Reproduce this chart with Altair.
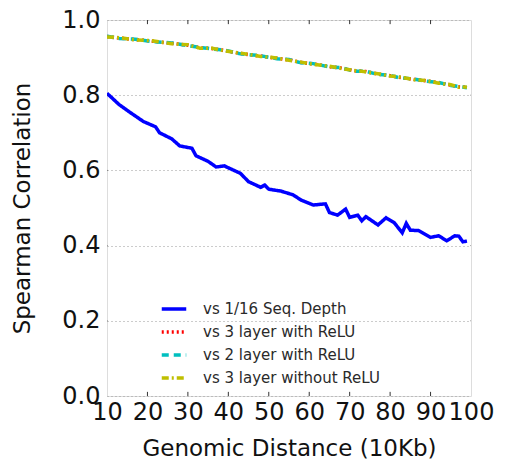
import altair as alt
import pandas as pd

# ---- data ----
labels = ["vs 1/16 Seq. Depth", "vs 3 layer with ReLU", "vs 2 layer with ReLU", "vs 3 layer without ReLU"]
colors = ["#0000ff", "#ff0000", "#00bfbf", "#bfbf00"]
dashes = [[1, 0], [2, 3], [7, 5], [7, 3, 2, 3]]

x_blue = [10, 13, 16, 19, 22, 23, 26, 28, 31, 32, 35, 37, 39, 43, 45, 48, 49, 50, 53, 56, 58,
          61, 64, 65, 67, 69, 70, 72, 73, 74, 77, 79, 81, 83, 84, 85, 87, 90, 92, 94, 96, 97, 98, 99]
y_blue = [0.805, 0.775, 0.752, 0.730, 0.716, 0.700, 0.684, 0.665, 0.659, 0.639, 0.624, 0.609, 0.612,
          0.592, 0.570, 0.555, 0.561, 0.550, 0.545, 0.535, 0.521, 0.508, 0.511, 0.488, 0.481, 0.497,
          0.475, 0.481, 0.466, 0.477, 0.455, 0.474, 0.461, 0.434, 0.459, 0.441, 0.440, 0.422, 0.426,
          0.413, 0.426, 0.425, 0.410, 0.412]

x_top = [10, 13, 17, 21, 26, 30, 33, 36, 39, 43, 48, 52, 55, 58, 61, 65, 68, 71, 74, 77, 80, 82,
         86, 89, 92, 95, 97, 99]
y_relu3 = [0.956, 0.952, 0.948, 0.944, 0.938, 0.933, 0.926, 0.924, 0.919, 0.911, 0.904, 0.898,
           0.894, 0.887, 0.883, 0.876, 0.872, 0.865, 0.863, 0.856, 0.852, 0.848, 0.842, 0.838,
           0.833, 0.827, 0.822, 0.821]
y_relu2 = [0.957, 0.951, 0.949, 0.943, 0.939, 0.932, 0.927, 0.923, 0.920, 0.910, 0.905, 0.897,
           0.895, 0.886, 0.884, 0.875, 0.873, 0.864, 0.864, 0.855, 0.853, 0.847, 0.843, 0.837,
           0.834, 0.826, 0.823, 0.820]
y_norelu3 = [0.955, 0.953, 0.947, 0.945, 0.937, 0.934, 0.925, 0.925, 0.918, 0.912, 0.903, 0.899,
             0.893, 0.888, 0.882, 0.877, 0.871, 0.866, 0.862, 0.857, 0.851, 0.849, 0.841, 0.839,
             0.832, 0.828, 0.821, 0.822]

x_tick_labels = [10, 20, 30, 40, 50, 60, 70, 80, 90, 100]
y_tick_labels = [0.0, 0.2, 0.4, 0.6, 0.8, 1.0]
x_inner_ticks = [20, 30, 40, 50, 60, 70, 80, 90]
y_inner_ticks = [0.2, 0.4, 0.6, 0.8]

rows = []
for x, y in zip(x_blue, y_blue):
    rows.append({"x": x, "y": y, "series": labels[0]})
for name, ys in zip(labels[1:], [y_relu3, y_relu2, y_norelu3]):
    for x, y in zip(x_top, ys):
        rows.append({"x": x, "y": y, "series": name})
df = pd.DataFrame(rows)

FONT = "DejaVu Sans"
XT = "Genomic Distance (10Kb)"
YT = "Spearman Correlation"

xscale = alt.Scale(domain=[10, 100], nice=False, zero=False)
yscale = alt.Scale(domain=[0, 1], nice=False)

legend = alt.Legend(
    orient="none", legendX=53, legendY=275, title=None,
    labelFont=FONT, labelFontSize=15, labelColor="#2a2a2a", labelLimit=400,
    symbolType="stroke", symbolSize=600, symbolStrokeWidth=3.5,
    labelOffset=15, rowPadding=1, padding=0,
)

lines = alt.Chart(df).mark_line(strokeWidth=3.5, clip=True).encode(
    x=alt.X("x:Q", scale=xscale, title=XT,
            axis=alt.Axis(values=x_tick_labels, grid=False, ticks=False, domain=False,
                          labelFont=FONT, labelFontSize=24, labelColor="#111111",
                          labelOverlap=False, labelPadding=4, labelFlush=False,
                          titleFont=FONT, titleFontSize=23, titleFontWeight="normal",
                          titleColor="#111111", titlePadding=13)),
    y=alt.Y("y:Q", scale=yscale, title=YT,
            axis=alt.Axis(values=y_tick_labels, format=".1f", grid=True, gridDash=[1, 3],
                          gridColor="#999999", ticks=False, domain=False,
                          labelFont=FONT, labelFontSize=24, labelColor="#111111",
                          labelPadding=7, labelFlush=False,
                          titleFont=FONT, titleFontSize=23, titleFontWeight="normal",
                          titleColor="#111111", titlePadding=27)),
    color=alt.Color("series:N", scale=alt.Scale(domain=labels, range=colors), legend=legend),
    strokeDash=alt.StrokeDash("series:N", scale=alt.Scale(domain=labels, range=dashes), legend=legend),
)

xt_df = pd.DataFrame({"x": x_inner_ticks})
yt_df = pd.DataFrame({"y": y_inner_ticks})
tick_color = "#333333"
bottom_ticks = alt.Chart(xt_df).mark_rule(color=tick_color).encode(
    x=alt.X("x:Q", scale=xscale, title=XT), y=alt.datum(0), y2=alt.datum(0.011))
top_ticks = alt.Chart(xt_df).mark_rule(color=tick_color).encode(
    x=alt.X("x:Q", scale=xscale, title=XT), y=alt.datum(1), y2=alt.datum(0.989))
left_ticks = alt.Chart(yt_df).mark_rule(color=tick_color).encode(
    y=alt.Y("y:Q", scale=yscale, title=YT), x=alt.datum(10), x2=alt.datum(10.1))
right_ticks = alt.Chart(yt_df).mark_rule(color=tick_color).encode(
    y=alt.Y("y:Q", scale=yscale, title=YT), x=alt.datum(100), x2=alt.datum(99.9))

chart = alt.layer(lines, bottom_ticks, top_ticks, left_ticks, right_ticks).properties(
    width=364, height=376,
    autosize=alt.AutoSizeParams(type="none"),
    padding={"left": 107, "top": 20, "right": 34, "bottom": 71},
).configure_view(stroke="#333333", strokeWidth=1.5).configure(background="white")

chart.save("out.html", embed_options={"renderer": "svg", "actions": False})
